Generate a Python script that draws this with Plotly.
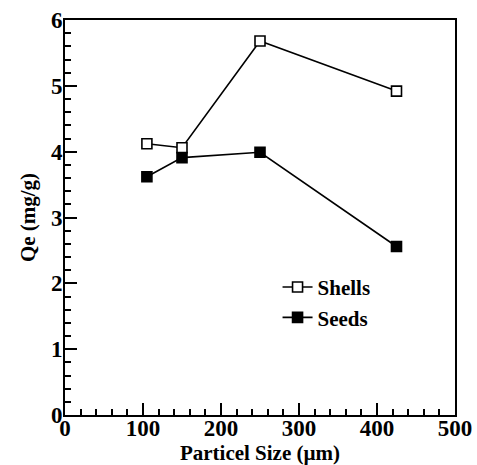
import plotly.graph_objects as go

particle_size = [105, 150, 250, 425]
shells_qe = [4.12, 4.06, 5.68, 4.92]
seeds_qe = [3.62, 3.91, 3.99, 2.56]

font_family = "Liberation Serif, Times New Roman, serif"

fig = go.Figure()
fig.add_trace(go.Scatter(
    x=particle_size, y=shells_qe, name="Shells", mode="lines+markers",
    line=dict(color="black", width=1.6),
    marker=dict(symbol="square", size=10, color="white", line=dict(color="black", width=1.6)),
))
fig.add_trace(go.Scatter(
    x=particle_size, y=seeds_qe, name="Seeds", mode="lines+markers",
    line=dict(color="black", width=1.6),
    marker=dict(symbol="square", size=10, color="black", line=dict(color="black", width=1.6)),
))

axis_common = dict(
    showgrid=False, zeroline=False, showline=True, linecolor="black", linewidth=2,
    mirror=True, ticks="inside", ticklen=12, tickwidth=1.5, tickcolor="black",
    tickfont=dict(family=font_family, size=23, color="black", weight="bold"),
    automargin=False,
)

fig.update_layout(
    width=477, height=465,
    margin=dict(l=65, r=22, t=20, b=50),
    plot_bgcolor="white", paper_bgcolor="white",
    font=dict(family=font_family, color="black"),
    xaxis=dict(
        range=[0, 500], dtick=100, tick0=0,
        minor=dict(dtick=20, ticks="inside", ticklen=6, tickwidth=1.5, tickcolor="black"),
        title=dict(text="Particel Size (µm)", standoff=2,
                   font=dict(family=font_family, size=21, color="black", weight="bold")),
        ticklabelstandoff=-9,
        **axis_common,
    ),
    yaxis=dict(
        range=[0, 6], dtick=1, tick0=0,
        minor=dict(dtick=0.2, ticks="inside", ticklen=6, tickwidth=1.5, tickcolor="black"),
        title=dict(text="Qe (mg/g)", standoff=10,
                   font=dict(family=font_family, size=21, color="black", weight="bold")),
        ticklabelstandoff=-4,
        **axis_common,
    ),
    legend=dict(
        x=0.545, y=0.375, xanchor="left", yanchor="top",
        bgcolor="rgba(0,0,0,0)", borderwidth=0,
        font=dict(family=font_family, size=21, color="black", weight="bold"),
        tracegroupgap=0, itemwidth=30,
    ),
    showlegend=True,
)

fig.write_html("out.html")
